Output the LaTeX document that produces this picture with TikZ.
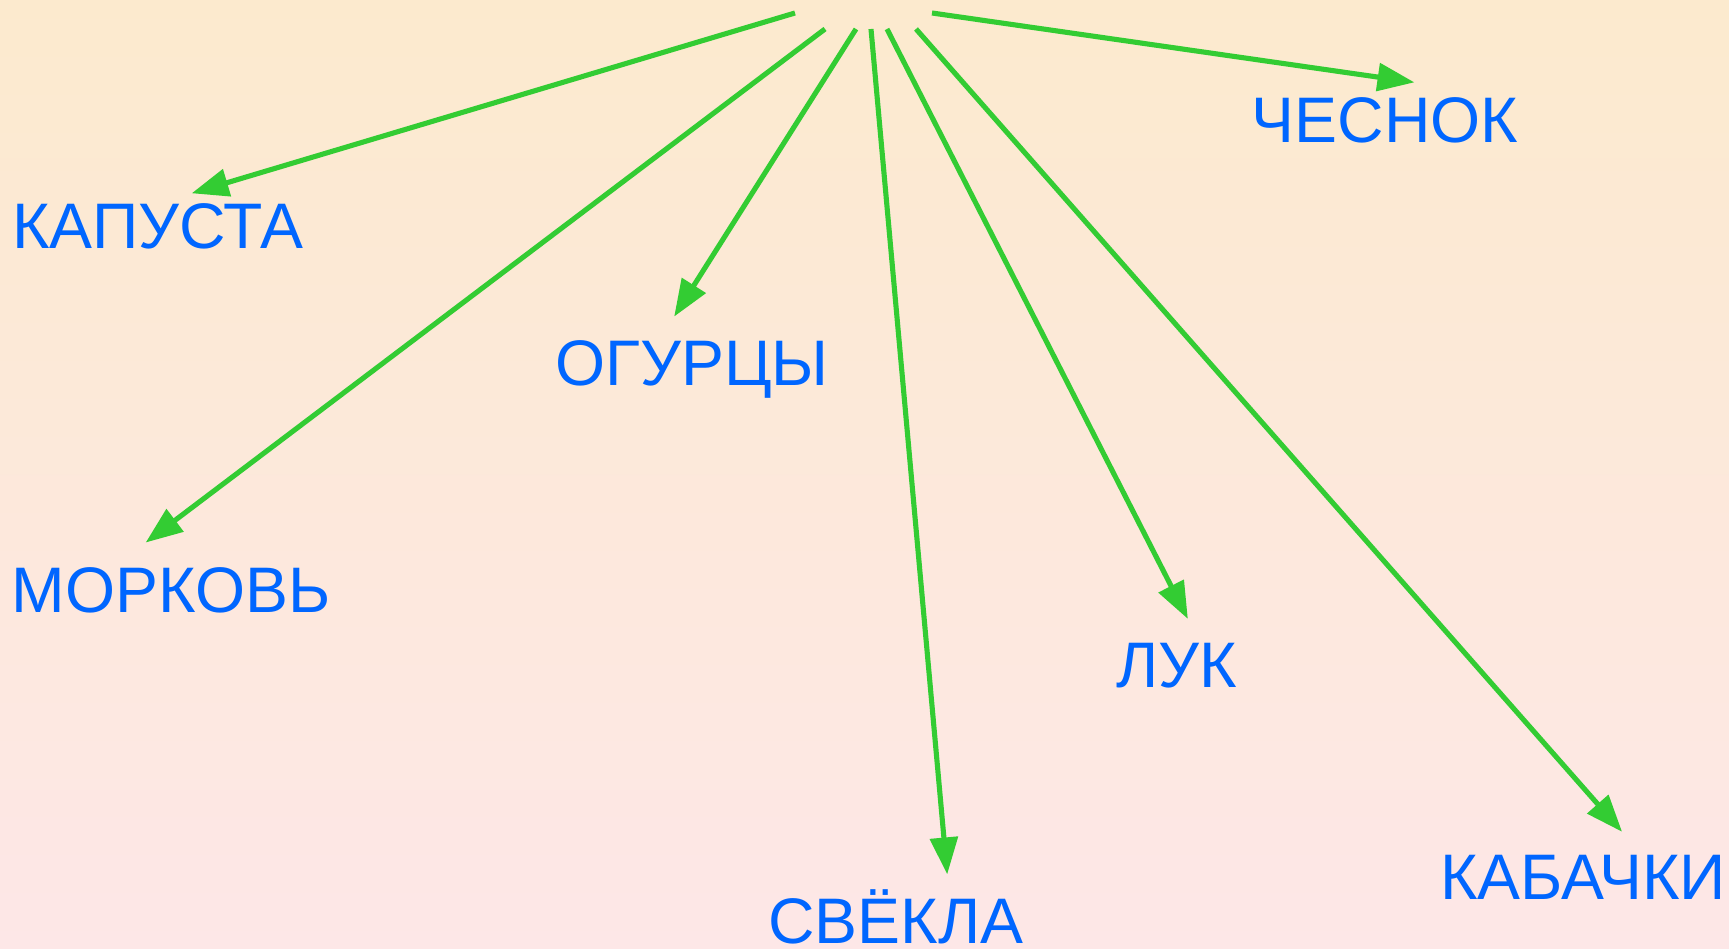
\documentclass[tikz,border=0pt]{standalone}
\usepackage{fontspec}
\setmainfont{Liberation Sans}
\usetikzlibrary{arrows.meta,positioning}
\definecolor{vegblue}{RGB}{0,102,255}
\definecolor{stemgreen}{RGB}{51,204,51}
\definecolor{bgtop}{RGB}{252,234,206}
\definecolor{bgbottom}{RGB}{253,231,231}
\tikzstyle{veg}=[inner sep=0pt, vegblue, anchor=base, font=\fontsize{18.3}{22}\selectfont]
\tikzstyle{stem}=[->, stemgreen, line width=1.45pt]

\begin{document}
\begin{tikzpicture}[>={Triangle[length=10.5pt,width=7.8pt]},x=.01cm,y=-.01cm]

    % Background
    \shade[top color=bgtop,bottom color=bgbottom] (0,0) rectangle (1729,949);

    % Vegetables
    \draw (158,249) node[veg] (kapusta) {КАПУСТА};
    \draw (692,386) node[veg] (ogurcy) {ОГУРЦЫ};
    \draw (171,613) node[veg] (morkov) {МОРКОВЬ};
    \draw (1177,688) node[veg] (luk) {ЛУК};
    \draw (1385,143) node[veg] (chesnok) {ЧЕСНОК};
    \draw (896,944) node[veg] (svekla) {СВЁКЛА};
    \draw (1583,900) node[veg] (kabachki) {КАБАЧКИ};

    % Starts
    \coordinate (s1) at (795,13);
    \coordinate (s2) at (825,29);
    \coordinate (s3) at (856,29);
    \coordinate (s4) at (871,29);
    \coordinate (s5) at (887,29);
    \coordinate (s6) at (916,29);
    \coordinate (s7) at (932,13);

    % Arrows
    \draw[stem,shorten >=10pt] (s1) -- (kapusta.north);
    \draw[stem,shorten >=11.7pt] (s2) -- (morkov.158);
    \draw[stem,shorten >=8pt] (s3) -- (ogurcy.138);
    \draw[stem,shorten >=4.3pt] (s4) -- (svekla.28);
    \draw[stem,shorten >=7.7pt] (s5) -- (luk.45);
    \draw[stem,shorten >=8.8pt] (s6) -- (kabachki.21);
    \draw[stem,shorten >=30pt] (s7) -- (chesnok.north east);

\end{tikzpicture}
\end{document}
